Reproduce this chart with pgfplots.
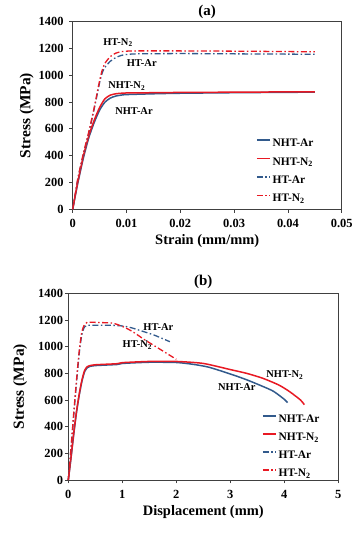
\documentclass[border=0pt]{standalone}
\usepackage{fontspec}
\setmainfont{Liberation Serif}
\usepackage{pgfplots}
\pgfplotsset{compat=1.18}
\definecolor{cblue}{RGB}{50,90,140}
\definecolor{cred}{RGB}{232,25,35}
\newcommand\fs[1]{\fontsize{#1}{#1}\selectfont\bfseries}
\tikzset{lab/.style={font=\fs{10.5}, inner sep=0bp}}
\pgfplotsset{legend image code/.code={\draw[#1] (0bp,3.5bp) -- (13bp,3.5bp);}}
\pgfplotsset{
  myaxis/.style={
    scale only axis,
    axis line style={black!75, line width=0.8bp},
    every tick/.style={black!75, line width=0.8bp},
    tick align=outside,
    major tick length=3.5bp,
    xtick pos=bottom, ytick pos=left,
    /pgf/number format/assume math mode=true,
    /pgf/number format/1000 sep={},
    xticklabel={\pgfmathprintnumber[assume math mode=true]{\tick}},
    yticklabel={\pgfmathprintnumber[assume math mode=true,1000 sep={}]{\tick}},
    tick label style={font=\fs{12.5}},
    ymin=0, ymax=1400, ytick={0,200,...,1400},
    legend cell align=left,
    clip=false,
  },
  nht/.style={line width=1.5bp, smooth, tension=0.4},
  ht/.style={line width=1.3bp, smooth, tension=0.4, dash pattern=on 6bp off 2.5bp on 1.5bp off 2.5bp},
}
\begin{document}
\begin{tikzpicture}[x=1bp,y=1bp]
\useasboundingbox (0,0) rectangle (363,534);
% ---------------- (a) ----------------
\begin{axis}[myaxis,
  at={(72.7bp,324.7bp)}, anchor=south west,
  width=269bp, height=187.6bp,
  xmin=0, xmax=0.05, xtick={0,0.01,...,0.05},
  xticklabels={0,0.01,0.02,0.03,0.04,0.05},
  scaled x ticks=false,
  every x tick label/.style={anchor=north, inner sep=0bp, yshift=-6.2bp},
  every y tick label/.style={anchor=east, inner sep=0bp, xshift=-5.5bp},
  every axis title/.style={at={(axis description cs:0.5,1.032)}, anchor=base, font=\fs{15}},
  every axis x label/.style={at={(axis description cs:0.5,-0.187)}, anchor=base, font=\fs{14.5}},
  every axis y label/.style={at={(axis description cs:-0.157,0.5)}, rotate=90, anchor=base, font=\fs{15.5}},
  title={(a)}, xlabel={Strain (mm/mm)}, ylabel={Stress (MPa)},
  legend style={draw=none, fill=none, at={(0.681,0.38)}, anchor=north west,
    inner sep=0bp, row sep=7.3bp, column sep=1bp, font=\fs{11.5},
    nodes={inner sep=1bp}},
]
\addplot[nht, cblue] coordinates {(0,0)(0.0005,105)(0.001,205)(0.002,385)(0.003,535)(0.004,648)(0.005,740)(0.006,800)(0.007,830)(0.008,845)(0.009,852)(0.01,856)(0.015,862)(0.02,866)(0.03,870)(0.04,873)(0.045,874)};
\addlegendentry{NHT-Ar}
\addplot[nht, cred] coordinates {(0,0)(0.0005,110)(0.001,215)(0.002,400)(0.003,550)(0.004,665)(0.005,760)(0.006,825)(0.007,852)(0.008,862)(0.009,866)(0.01,868)(0.015,870)(0.02,872)(0.03,874)(0.04,876)(0.045,877)};
\addlegendentry{NHT-N\textsubscript{2}}
\addplot[ht, cblue] coordinates {(0,0)(0.0005,115)(0.001,235)(0.002,410)(0.003,570)(0.004,750)(0.005,945)(0.0055,1020)(0.006,1060)(0.007,1105)(0.008,1132)(0.009,1148)(0.01,1155)(0.012,1160)(0.02,1162)(0.03,1160)(0.04,1158)(0.045,1157)};
\addlegendentry{HT-Ar}
\addplot[ht, cred] coordinates {(0,0)(0.0005,120)(0.001,240)(0.002,420)(0.003,580)(0.004,760)(0.005,960)(0.0055,1040)(0.006,1090)(0.007,1140)(0.008,1165)(0.009,1176)(0.01,1180)(0.012,1182)(0.02,1182)(0.03,1180)(0.04,1177)(0.045,1175)};
\addlegendentry{HT-N\textsubscript{2}}
\node[lab] at (axis cs:0.00842,1243) {HT-N\textsubscript{2}};
\node[lab] at (axis cs:0.01283,1094) {HT-Ar};
\node[lab] at (axis cs:0.01004,920) {NHT-N\textsubscript{2}};
\node[lab] at (axis cs:0.01139,736) {NHT-Ar};
\end{axis}
% ---------------- (b) ----------------
\begin{axis}[myaxis,
  at={(68.3bp,54bp)}, anchor=south west,
  width=270bp, height=186.7bp,
  xmin=0, xmax=5, xtick={0,1,...,5},
  every x tick label/.style={anchor=north, inner sep=0bp, yshift=-6.3bp},
  every y tick label/.style={anchor=east, inner sep=0bp, xshift=-1.5bp},
  every axis title/.style={at={(axis description cs:0.5,1.043)}, anchor=base, font=\fs{15}},
  every axis x label/.style={at={(axis description cs:0.5,-0.192)}, anchor=base, font=\fs{14.5}},
  every axis y label/.style={at={(axis description cs:-0.165,0.5)}, rotate=90, anchor=base, font=\fs{15.5}},
  title={(b)}, xlabel={Displacement (mm)}, ylabel={Stress (MPa)},
  legend style={draw=none, fill=none, at={(0.717,0.355)}, anchor=north west,
    inner sep=0bp, row sep=7bp, column sep=1bp, font=\fs{11.5},
    nodes={inner sep=1bp}},
]
\addplot[nht, cblue] coordinates {(0,0)(0.05,165)(0.1,340)(0.15,500)(0.2,630)(0.25,735)(0.3,810)(0.35,842)(0.4,852)(0.5,858)(0.7,862)(0.9,866)(1.0,874)(1.5,883)(2.0,881)(2.3,868)(2.6,846)(3.0,795)(3.3,752)(3.6,702)(3.8,665)(4.0,605)(4.06,580)};
\addlegendentry{NHT-Ar}
\addplot[nht, cred] coordinates {(0,0)(0.05,170)(0.1,350)(0.15,510)(0.2,640)(0.25,745)(0.3,820)(0.35,850)(0.4,858)(0.5,864)(0.7,868)(0.9,872)(1.0,880)(1.5,889)(2.0,889)(2.5,874)(3.0,828)(3.3,800)(3.6,763)(3.9,712)(4.1,662)(4.3,600)(4.37,565)};
\addlegendentry{NHT-N\textsubscript{2}}
\addplot[ht, cblue] coordinates {(0,0)(0.05,230)(0.1,480)(0.15,720)(0.2,940)(0.25,1090)(0.3,1148)(0.35,1160)(0.5,1161)(0.8,1160)(1.0,1155)(1.1,1148)(1.2,1138)(1.4,1112)(1.6,1085)(1.88,1037)};
\addlegendentry{HT-Ar}
\addplot[ht, cred] coordinates {(0,0)(0.05,240)(0.1,500)(0.15,740)(0.2,960)(0.25,1110)(0.3,1165)(0.35,1183)(0.5,1182)(0.8,1177)(0.9,1167)(1.0,1152)(1.1,1133)(1.2,1110)(1.3,1083)(1.4,1055)(1.6,1005)(1.8,955)(2.0,905)};
\addlegendentry{HT-N\textsubscript{2}}
\node[lab] at (axis cs:1.667,1150) {HT-Ar};
\node[lab] at (axis cs:1.28,1012) {HT-N\textsubscript{2}};
\node[lab] at (axis cs:4.01,788) {NHT-N\textsubscript{2}};
\node[lab] at (axis cs:3.12,694) {NHT-Ar};
\end{axis}
\end{tikzpicture}
\end{document}
